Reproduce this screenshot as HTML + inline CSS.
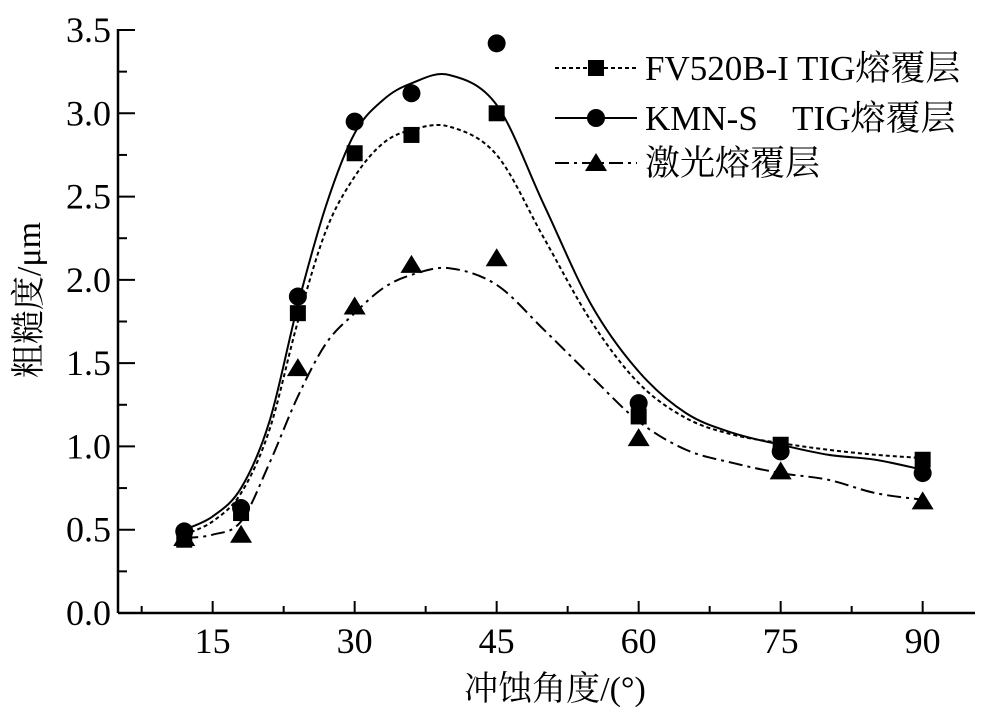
<!DOCTYPE html>
<html><head><meta charset="utf-8"><style>
body{margin:0;background:#fff;}
svg, svg text{font-family:"Liberation Serif","Times New Roman","Noto Serif CJK SC",serif !important;fill:#000;}
</style></head><body>
<svg id="chart" width="1000" height="710" viewBox="0 0 1000 710" xmlns="http://www.w3.org/2000/svg" font-family="Liberation Serif, Noto Serif CJK SC, serif">
<g id="axes"></g>
<g id="series"></g>
<g id="legend"></g>
<text transform="translate(40,300) rotate(-90)" font-size="34" text-anchor="middle">粗糙度/μm</text>
<text x="555" y="700" font-size="34" text-anchor="middle">冲蚀角度/(°)</text>
</svg>
<script>
const angles=[12,18,24,30,36,45,60,75,90];
const fvValues=[0.44,0.60,1.80,2.76,2.87,3.00,1.18,1.01,0.92];
const kmnValues=[0.49,0.63,1.90,2.95,3.12,3.42,1.26,0.97,0.84];
const laserValues=[0.45,0.47,1.47,1.84,2.09,2.13,1.05,0.85,0.67];
const fitAngles=[12,15,18,21,24,27,30,33,36,40,45,50,55,60,65,70,75,80,85,90];
const fvFit=[0.47,0.55,0.72,1.1,1.75,2.3,2.62,2.82,2.9,2.92,2.75,2.25,1.75,1.38,1.17,1.07,1.02,0.98,0.95,0.93];
const kmnFit=[0.5,0.58,0.75,1.15,1.85,2.45,2.88,3.08,3.18,3.23,3.05,2.45,1.85,1.45,1.2,1.08,1.01,0.95,0.92,0.86];
const laserFit=[0.45,0.47,0.55,0.9,1.3,1.62,1.8,1.95,2.03,2.07,1.97,1.7,1.42,1.15,0.98,0.9,0.84,0.8,0.72,0.68];
const xTicks=[15,30,45,60,75,90];
const yTicks=[0,0.5,1,1.5,2,2.5,3,3.5];

const NS="http://www.w3.org/2000/svg";
const FONT='"Liberation Serif","Noto Serif CJK SC",serif';
const X=v=>118+(v-5)*(142/15);
const Y=v=>613-v*(583/3.5);
function mk(tag,attrs,parent){const e=document.createElementNS(NS,tag);for(const k in attrs)e.setAttribute(k,attrs[k]);parent.appendChild(e);return e;}
const axes=document.getElementById('axes');
let a=mk('line',{x1:118,y1:613,x2:975,y2:613,stroke:'#000','stroke-width':2.5},axes);


a=mk('line',{x1:118,y1:613,x2:118,y2:29,stroke:'#000','stroke-width':2.5},axes);


for(let v=7.5;v<=90;v+=7.5){const major=xTicks.includes(v);const t=mk('line',{x1:X(v),y1:613,x2:X(v),y2:major?601:606,stroke:'#000','stroke-width':2},axes);

}
xTicks.forEach(v=>{const t=mk('text',{x:X(v),y:653,'font-size':36,'text-anchor':'middle','font-family':FONT},axes);t.textContent=v;

});
for(let v=0.25;v<3.5;v+=0.5){const t=mk('line',{x1:118,y1:Y(v),x2:127,y2:Y(v),stroke:'#000','stroke-width':2},axes);

}
yTicks.forEach(v=>{const t=mk('line',{x1:118,y1:Y(v),x2:135,y2:Y(v),stroke:'#000','stroke-width':2},axes);


const l=mk('text',{x:111,y:Y(v)+12,'font-size':36,'text-anchor':'end','font-family':FONT},axes);l.textContent=v.toFixed(1);

});
function smooth(xs,ys){const p=xs.map((x,i)=>[X(x),Y(ys[i])]);let d=`M${p[0][0]},${p[0][1]}`;
for(let i=0;i<p.length-1;i++){const p0=p[i-1]||p[i],p1=p[i],p2=p[i+1],p3=p[i+2]||p2;
d+=` C${p1[0]+(p2[0]-p0[0])/6},${p1[1]+(p2[1]-p0[1])/6} ${p2[0]-(p3[0]-p1[0])/6},${p2[1]-(p3[1]-p1[1])/6} ${p2[0]},${p2[1]}`;}return d;}
const S=document.getElementById('series');
function marker(type,cx,cy,g){if(type==='sq')return mk('rect',{x:cx-8,y:cy-8,width:16,height:16,fill:'#000'},g);
if(type==='ci')return mk('circle',{cx:cx,cy:cy,r:9,fill:'#000'},g);
return mk('polygon',{points:`${cx},${cy-10} ${cx-11},${cy+8} ${cx+11},${cy+8}`,fill:'#000'},g);}
const defs=[['fv-series',fvFit,fvValues,'4,3','sq'],['kmn-series',kmnFit,kmnValues,'none','ci'],['laser-series',laserFit,laserValues,'14,5,3,5','tr']];
defs.forEach(([nm,fit,vals,dash,m])=>{const g=mk('g',{},S);


const p=mk('path',{d:smooth(fitAngles,fit),fill:'none',stroke:'#000','stroke-width':2,'stroke-dasharray':dash},g);


vals.forEach((v,i)=>{const e=marker(m,X(angles[i]),Y(v),g);

});});
const L=document.getElementById('legend');
const labels=['FV520B-I TIG熔覆层','KMN-S\u00a0\u00a0\u00a0 TIG熔覆层','激光熔覆层'];
[[68,'4,3','sq'],[118,'none','ci'],[163,'14,5,3,5','tr']].forEach(([y,dash,m],i)=>{const g=mk('g',{},L);


mk('line',{x1:555,y1:y,x2:637,y2:y,stroke:'#000','stroke-width':2,'stroke-dasharray':dash},g);
marker(m,596,y,g);
const t=mk('text',{x:645,y:y+12,'font-size':35,'font-family':FONT},g);t.textContent=labels[i];});
</script>
</body></html>
